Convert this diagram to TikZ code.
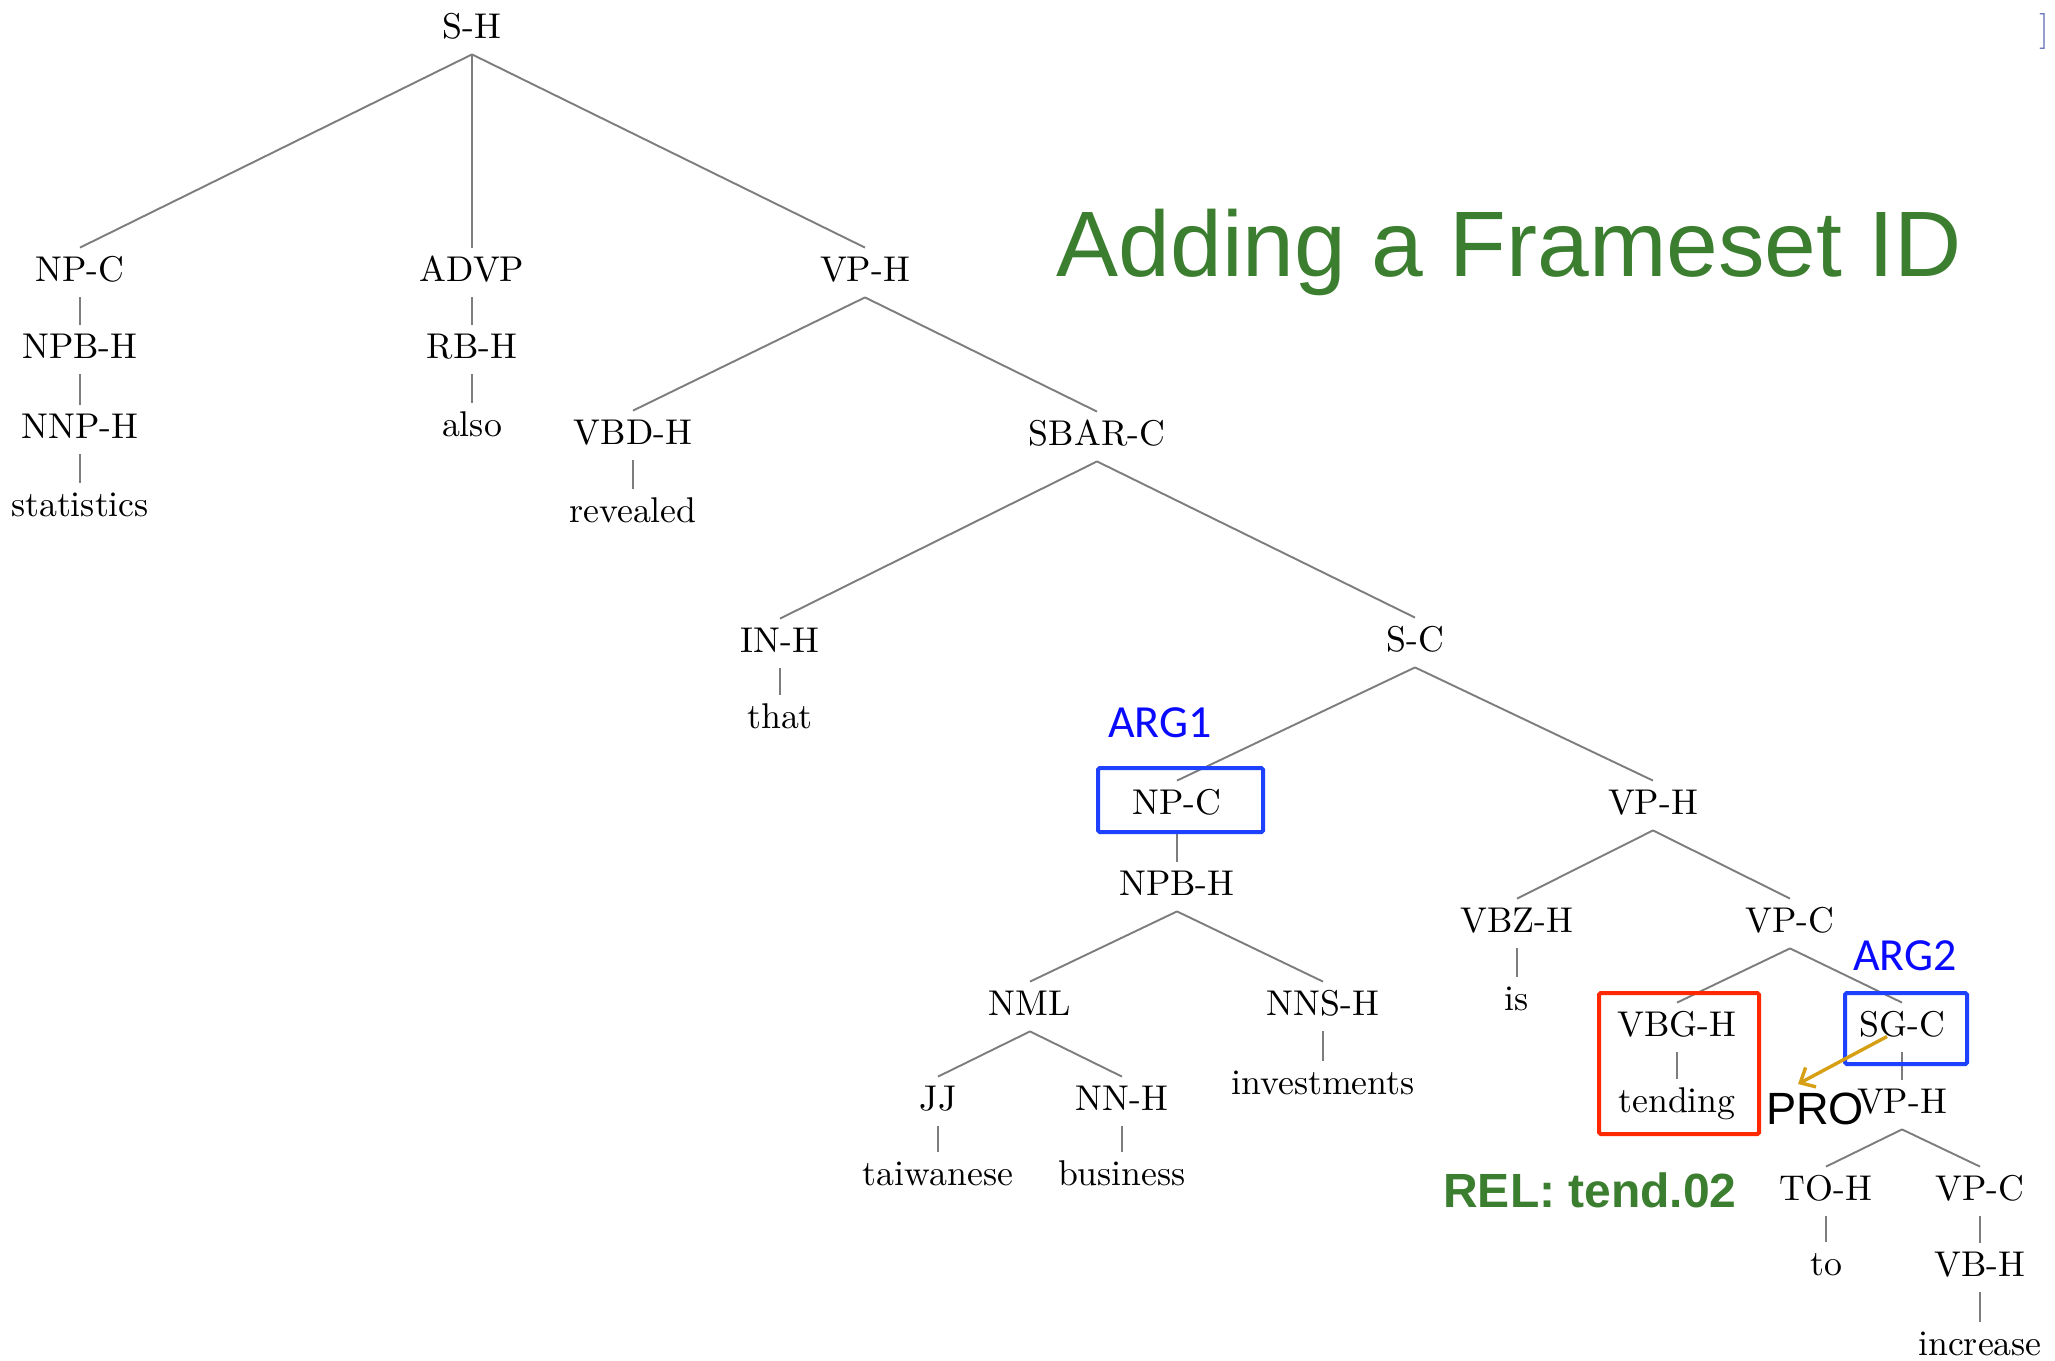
\documentclass[tikz,border=0pt]{standalone}
\usepackage{fontspec}
\newfontfamily\arialfont{Liberation Sans}
\newfontfamily\calibrifont{Carlito}
\newfontfamily\treefont{lmroman10-regular}[Extension=.otf]
\usetikzlibrary{arrows.meta}

\definecolor{treeline}{RGB}{125,125,125}
\definecolor{titlegreen}{RGB}{60,126,48}
\definecolor{argblue}{RGB}{10,10,255}
\definecolor{boxblue}{RGB}{30,64,255}
\definecolor{boxred}{RGB}{255,40,0}
\definecolor{arrowgold}{RGB}{215,160,20}
\definecolor{bracketgray}{RGB}{110,120,190}

\begin{document}
\begin{tikzpicture}[x=0.5pt,y=-0.5pt,
  tn/.style={font=\treefont\fontsize{17.9}{21}\selectfont, inner sep=0pt,
             text height=16.6pt, text depth=7.9pt, anchor=base, yshift=-6.1pt},
  edge/.style={draw=treeline, line width=0.95pt},
  argbox/.style={draw=boxblue, line width=2pt, rounded corners=0.8pt},
  relbox/.style={draw=boxred, line width=2pt, rounded corners=0.8pt},
  arglabel/.style={font=\calibrifont\fontsize{23}{27}\selectfont, text=argblue, inner sep=0pt, anchor=base},
  proarrow/.style={draw=arrowgold, line width=1.7pt, -{Straight Barb[length=6pt,width=11pt]}}]

% canvas
\useasboundingbox (0,0) rectangle (2055,1360);
\fill[white] (0,0) rectangle (2055,1360);

% ---- parse tree ----
\node[tn] (sh)    at (472,26)   {S-H};
\node[tn] (npca)  at (80,269)   {NP-C};
\node[tn] (advp)  at (472,269)  {ADVP};
\node[tn] (vpha)  at (865,269)  {VP-H};
\node[tn] (npba)  at (80,346)   {NPB-H};
\node[tn] (nnph)  at (80,426)   {NNP-H};
\node[tn] (stat)  at (80,504)   {statistics};
\node[tn] (rbh)   at (472,346)  {RB-H};
\node[tn] (also)  at (472,424)  {also};
\node[tn] (vbdh)  at (633,432)  {VBD-H};
\node[tn] (revd)  at (633,510)  {revealed};
\node[tn] (sbarc) at (1097,433) {SBAR-C};
\node[tn] (inh)   at (780,640)  {IN-H};
\node[tn] (that)  at (780,716)  {that};
\node[tn] (sc)    at (1415,639) {S-C};
\node[tn] (npcb)  at (1177,802) {NP-C};
\node[tn] (vphb)  at (1653,802) {VP-H};
\node[tn] (npbb)  at (1177,883) {NPB-H};
\node[tn] (nml)   at (1030,1003){NML};
\node[tn] (nnsh)  at (1323,1003){NNS-H};
\node[tn] (invs)  at (1323,1082){investments};
\node[tn] (jj)    at (938,1098) {JJ};
\node[tn] (nnh)   at (1122,1098){NN-H};
\node[tn] (taiw)  at (938,1173) {taiwanese};
\node[tn] (busi)  at (1122,1173){business};
\node[tn] (vbzh)  at (1517,920) {VBZ-H};
\node[tn] (is)    at (1517,998) {is};
\node[tn] (vpca)  at (1790,920) {VP-C};
\node[tn] (vbgh)  at (1677,1024){VBG-H};
\node[tn] (tend)  at (1677,1100){tending};
\node[tn] (sgc)   at (1902,1024){SG-C};
\node[tn] (vphc)  at (1902,1101){VP-H};
\node[tn] (toh)   at (1826,1188){TO-H};
\node[tn] (vpcb)  at (1980,1188){VP-C};
\node[tn] (to)    at (1826,1263){to};
\node[tn] (vbh)   at (1980,1264){VB-H};
\node[tn] (incr)  at (1980,1343){increase};

\foreach \a/\b in {sh/npca, sh/advp, sh/vpha,
                   npca/npba, npba/nnph, nnph/stat,
                   advp/rbh, rbh/also,
                   vpha/vbdh, vpha/sbarc, vbdh/revd,
                   sbarc/inh, sbarc/sc, inh/that,
                   sc/npcb, sc/vphb, npcb/npbb,
                   npbb/nml, npbb/nnsh, nnsh/invs,
                   nml/jj, nml/nnh, jj/taiw, nnh/busi,
                   vphb/vbzh, vphb/vpca, vbzh/is,
                   vpca/vbgh, vpca/sgc, vbgh/tend, sgc/vphc,
                   vphc/toh, vphc/vpcb, toh/to, vpcb/vbh, vbh/incr}
  \draw[edge] (\a.south) -- (\b.north);

% ---- argument and relation frames ----
\draw[argbox] (1098,768) rectangle (1263,832);
\draw[relbox] (1599,993) rectangle (1759,1134);
\draw[argbox] (1845,993) rectangle (1967,1064);

\node[arglabel] (arga) at (1160,737) {ARG1};
\node[arglabel] (argb) at (1905,970) {ARG2};

\node[font=\arialfont\bfseries\fontsize{24}{28}\selectfont, text=titlegreen, inner sep=0pt, anchor=base]
  (rel) at (1590,1207) {REL: tend.02};

% ---- empty subject of the SG clause ----
\coordinate (protip) at (1798,1084);
\draw[proarrow] ([shift={(-15,9)}]sgc.center) -- (protip);
\node[font=\arialfont\fontsize{22.6}{27}\selectfont, inner sep=0pt, anchor=base]
  (pro) at (1815,1124) {PRO};

% ---- heading ----
\node[font=\arialfont\fontsize{46.5}{54}\selectfont, text=titlegreen, inner sep=0pt, anchor=base]
  (title) at (1509,276) {Adding a Frameset ID};

\node[font=\treefont\fontsize{18}{21}\selectfont, text=bracketgray, inner sep=0pt, anchor=base]
  (brk) at (2044,40) {]};
\end{tikzpicture}
\end{document}
